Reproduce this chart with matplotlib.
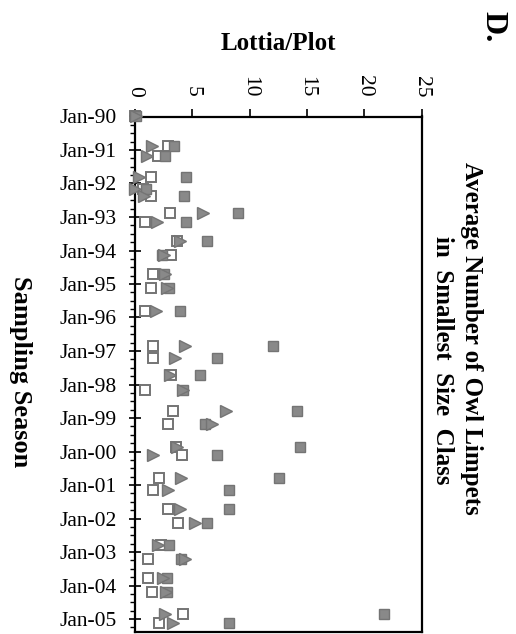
import numpy as np
import matplotlib.pyplot as plt
import matplotlib.dates as mdates
from matplotlib.ticker import MultipleLocator

# Times-like serif font, as in the original figure
plt.rcParams['font.family'] = ['Liberation Serif', 'DejaVu Serif']

# Sampling dates
sample_dates = [
    '1990-01-01', '1990-11-18', '1991-03-08', '1991-10-23', '1992-02-25',
    '1992-05-22', '1992-11-14', '1993-02-24', '1993-09-24', '1994-02-14',
    '1994-09-16', '1995-02-10', '1995-10-27', '1996-11-06', '1997-03-15',
    '1997-09-24', '1998-02-28', '1998-10-12', '1999-03-04', '1999-11-14',
    '2000-02-06', '2000-10-16', '2001-02-21', '2001-09-20', '2002-02-14',
    '2002-10-12', '2003-03-15', '2003-10-08', '2004-03-15', '2004-11-06',
    '2005-02-14',
]

# Lottia per plot, one list per marker type
filled_squares = [
    0.05, 3.4, 2.62, 4.45, 1.0,
    4.3, 9.0, 4.45, 6.25, 2.35,
    2.55, 3.0, 3.92, 12.06, 7.12,
    5.67, 4.2, 14.1, 6.1, 14.4,
    7.12, 12.58, 8.2, 8.2, 6.25,
    3.0, 4.05, 2.8, 2.8, 21.7,
    8.2,
]
open_squares = [
    0.0, 2.9, 2.0, 1.37, 0.7,
    1.4, 3.05, 0.87, 3.69, 3.15,
    1.57, 1.38, 0.87, 1.54, 1.54,
    3.1, 0.87, 3.28, 2.9, 3.57,
    4.07, 2.09, 1.54, 2.9, 3.78,
    2.3, 1.15, 1.15, 1.5, 4.15,
    2.09,
]
triangles = [
    0.05, 1.46, 1.02, 0.37, 0.0,
    0.8, 5.95, 1.95, 3.92, 2.55,
    2.6, 2.8, 1.83, 4.36, 3.49,
    3.05, 4.2, 7.94, 6.68, 3.7,
    1.6, 4.0, 2.9, 3.92, 5.23,
    2.0, 4.4, 2.45, 2.7, 2.62,
    3.28,
]

dates = np.array(sample_dates, dtype='datetime64[D]')

fig, ax = plt.subplots(figsize=(5.16, 6.34), dpi=100)
ax.set_position([135 / 516, 2.3 / 634, 286.7 / 516, 515.2 / 634])

gray = '#898989'
edge = '#747474'

# The chart is drawn sideways: values across, sampling season downwards
ax.plot(open_squares, dates, 's', ms=7, mfc='white', mec=edge, mew=1.4,
        clip_on=False, zorder=3)
ax.plot(filled_squares, dates, 's', ms=7, mfc=gray, mec=edge, mew=1.0,
        clip_on=False, zorder=4)
ax.plot(triangles, dates, '>', ms=9, mfc=gray, mec=edge, mew=1.0,
        clip_on=False, zorder=5)

# Value axis on top, labels turned sideways
ax.set_xlim(0, 25)
ax.xaxis.tick_top()
ax.xaxis.set_major_locator(MultipleLocator(5))
ax.tick_params(axis='x', which='major', direction='out', length=6, width=1.2,
               pad=8, labelsize=15.5, labelrotation=-90)
ax.set_xlabel('Lottia/Plot', fontsize=18, fontweight='bold', labelpad=18)
ax.xaxis.set_label_position('top')

# Date axis, inverted so time runs down the page
ax.set_ylim(np.datetime64('2005-05-18'), np.datetime64('1990-01-01'))
ax.yaxis.set_major_locator(mdates.YearLocator(1))
ax.yaxis.set_minor_locator(mdates.MonthLocator(bymonth=[4, 7, 10]))
ax.yaxis.set_major_formatter(mdates.DateFormatter('%b-%y'))
ax.tick_params(axis='y', which='major', direction='inout', length=9, width=1.2,
               pad=8.5, labelsize=15.5)
ax.tick_params(axis='y', which='minor', direction='out', length=3.5, width=1.0)

for spine in ax.spines.values():
    spine.set_linewidth(1.6)

# Rotated labels and the two-line title
fig.text(20 / 516, 1 - 372 / 634, 'Sampling Season', rotation=-90,
         fontsize=19, fontweight='bold', ha='center', va='center')
fig.text(471 / 516, 1 - 338 / 634, 'Average Number of Owl Limpets',
         rotation=-90, fontsize=18, fontweight='bold', ha='center',
         va='center')
fig.text(443 / 516, 1 - 360 / 634, 'in  Smallest  Size  Class',
         rotation=-90, fontsize=18, fontweight='bold', ha='center',
         va='center')
fig.text(493 / 516, 1 - 27 / 634, 'D.', rotation=-90, fontsize=23,
         fontweight='bold', ha='center', va='center')

fig.savefig('out.png', dpi=100)
